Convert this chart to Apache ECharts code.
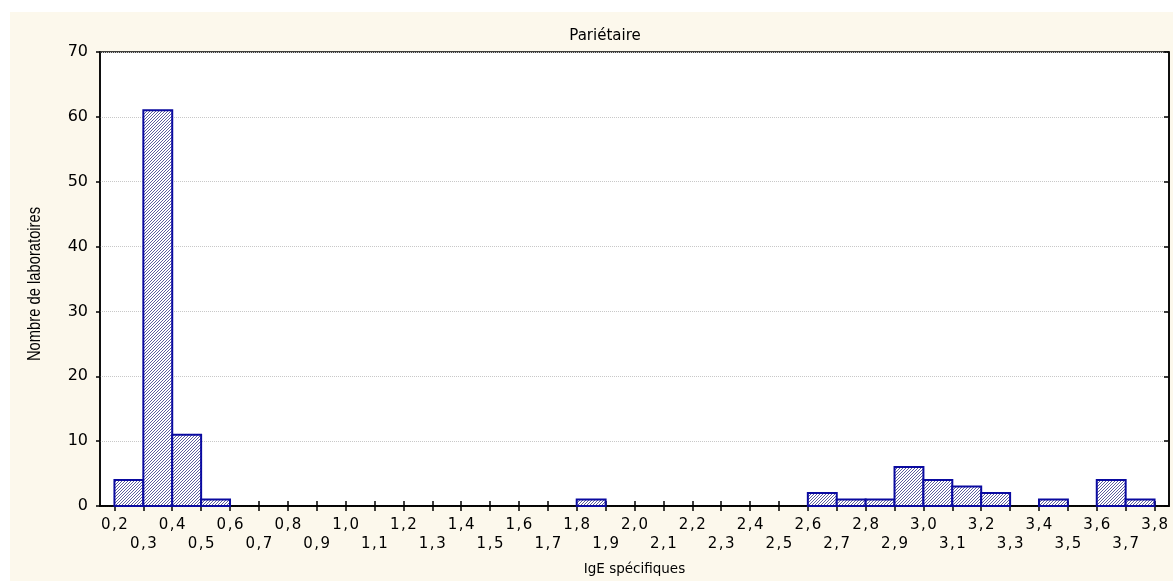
<!DOCTYPE html>
<html>
<head>
<meta charset="utf-8">
<script src="https://cdn.jsdelivr.net/npm/echarts@6/dist/echarts.min.js"></script>
<style>
html,body{margin:0;padding:0;background:#fff;}
#c{width:1173px;height:581px;}
</style>
</head>
<body>
<div id="c"></div>
<script>
// Bin edges (also the x tick labels)
var binEdges = [0.2,0.3,0.4,0.5,0.6,0.7,0.8,0.9,1.0,1.1,1.2,1.3,1.4,1.5,1.6,1.7,1.8,1.9,2.0,
                2.1,2.2,2.3,2.4,2.5,2.6,2.7,2.8,2.9,3.0,3.1,3.2,3.3,3.4,3.5,3.6,3.7,3.8];
// Count in each bin [binEdges[i], binEdges[i+1])
var counts = [4,61,11,1,0,0,0,0,0,0,0,0,0,0,0,0,1,0,0,0,0,0,0,0,2,1,1,6,4,3,2,0,1,0,4,1];
var yTicks = [0,10,20,30,40,50,60,70];

var titleText = 'Pariétaire';
var xName = 'IgE spécifiques';
var yName = 'Nombre de laboratoires';

// hatch pattern
var pc = document.createElement('canvas');
pc.width = 3; pc.height = 3;
var g = pc.getContext('2d');
g.fillStyle = '#ffffff'; g.fillRect(0,0,3,3);
g.strokeStyle = '#40408c'; g.lineWidth = 0.85;
g.beginPath();
g.moveTo(0,3); g.lineTo(3,0);
g.moveTo(-1,1); g.lineTo(1,-1);
g.moveTo(2,4); g.lineTo(4,2);
g.stroke();

var data = counts.map(function(c,i){ return [binEdges[i], binEdges[i+1], c]; });

var chart = echarts.init(document.getElementById('c'));
var font = 'DejaVu Sans';
function fmt(v){ return v.toFixed(1).replace('.', '\u200A,\u200A'); }

var option = {
  animation:false,
  backgroundColor:'transparent',
  graphic:[
    {type:'rect', z:-10, silent:true, shape:{x:10,y:12,width:1163,height:569}, style:{fill:'#fcf8ec'}},
    {type:'text', silent:true, x:35, y:284, rotation:Math.PI/2, scaleX:0.82, scaleY:1,
      style:{text:yName, font:'18px "Liberation Sans"', fill:'#000', align:'center', verticalAlign:'middle'}}
  ],
  title:{text:titleText, left:600, top:24, textAlign:'center',
    textStyle:{fontFamily:font, fontSize:15, fontWeight:'normal', color:'#000'}},
  grid:{left:100, right:4, top:52, bottom:69, show:true, backgroundColor:'#fff', borderColor:'#000', borderWidth:1.5},
  xAxis:[{
    type:'value', min:0.15, max:3.85, position:'bottom',
    name:xName, nameLocation:'middle', nameGap:56,
    nameTextStyle:{fontFamily:font, fontSize:13.5, color:'#000'},
    axisLine:{show:true, lineStyle:{color:'#000', width:1.5}},
    axisTick:{show:true, inside:true, length:5, customValues:binEdges, lineStyle:{color:'#000', width:1.5}},
    axisLabel:{show:true, customValues:binEdges, margin:10, fontFamily:font, fontSize:15, color:'#000', lineHeight:19,
      showMinLabel:true, showMaxLabel:true, hideOverlap:false,
      formatter:function(v){ var i = Math.round((v-0.2)*10); return i%2===0 ? fmt(v) : '\n'+fmt(v); }},
    splitLine:{show:false}
  },{
    type:'value', min:0.15, max:3.85, position:'top',
    axisLine:{show:true, lineStyle:{color:'#000', width:1.5}},
    axisTick:{show:true, inside:true, length:5, customValues:binEdges, lineStyle:{color:'#000', width:1.5}},
    axisLabel:{show:false}, splitLine:{show:false}
  }],
  yAxis:[{
    type:'value', min:0, max:70, interval:10, position:'left',
    axisLine:{show:true, lineStyle:{color:'#000', width:1.5}},
    axisTick:{show:true, inside:false, length:4, lineStyle:{color:'#000', width:1.5}},
    axisLabel:{margin:12, fontFamily:font, fontSize:16, color:'#000'},
    splitLine:{show:true, lineStyle:{color:'#c8c8c8', type:'dotted', width:1}}
  },{
    type:'value', min:0, max:70, interval:10, position:'right',
    axisLine:{show:true, lineStyle:{color:'#000', width:1.5}},
    axisTick:{show:true, inside:true, length:5, lineStyle:{color:'#000', width:1.5}},
    axisLabel:{show:false}, splitLine:{show:false}
  }],
  series:[{
    type:'custom', xAxisIndex:0, yAxisIndex:0,
    data:data,
    encode:{x:[0,1], y:2},
    renderItem:function(params, api){
      var c = api.value(2);
      if (!c) return null;
      var p0 = api.coord([api.value(0), c]);
      var p1 = api.coord([api.value(1), 0]);
      return {type:'rect', shape:{x:p0[0], y:p0[1], width:p1[0]-p0[0], height:p1[1]-p0[1]},
        style:{fill:{image:pc, repeat:'repeat'}, stroke:'#0a0aa0', lineWidth:2}};
    }
  }]
};
chart.setOption(option);
</script>
</body>
</html>
